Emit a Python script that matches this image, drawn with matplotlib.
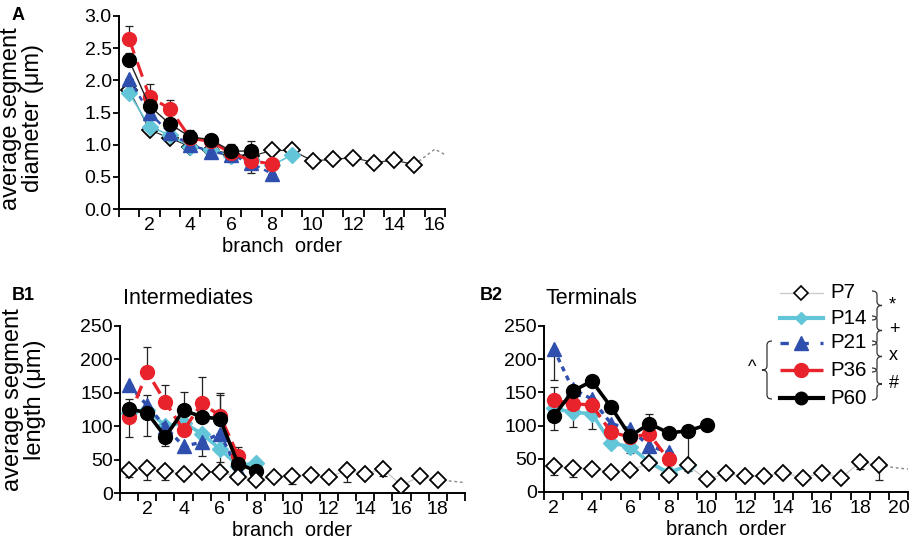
import numpy as np
import matplotlib
matplotlib.use('Agg')
import matplotlib.pyplot as plt
from matplotlib.path import Path
from matplotlib.patches import PathPatch

plt.rcParams['font.family'] = ['Liberation Sans', 'DejaVu Sans']

# ---------------- data ----------------
groups = ['P7', 'P14', 'P21', 'P36', 'P60']

# Panel A: average segment diameter (um)
A_p7_order = list(range(1, 16))
A_p7 = [1.85, 1.23, 1.10, 0.97, 0.92, 0.86, 0.82, 0.91, 0.91, 0.75, 0.77, 0.80, 0.72, 0.76, 0.69]
A_p7_tail_order = [15, 16, 17]
A_p7_tail = [0.69, 0.93, 0.76]
A_p14_order = list(range(1, 10))
A_p14 = [1.80, 1.28, 1.15, 0.97, 0.92, 0.83, 0.78, 0.68, 0.84]
A_p21_order = list(range(1, 9))
A_p21 = [2.02, 1.49, 1.18, 1.00, 0.89, 0.84, 0.71, 0.55]
A_p21_lo = [0, 0, 0, 0, 0, 0, 0.15, 0]
A_p36_order = list(range(1, 9))
A_p36 = [2.64, 1.74, 1.56, 1.10, 1.05, 0.87, 0.75, 0.70]
A_p36_hi = [0.20, 0.21, 0.13, 0, 0, 0, 0, 0]
A_p60_order = list(range(1, 8))
A_p60 = [2.31, 1.60, 1.32, 1.12, 1.08, 0.90, 0.90]
A_p60_hi = [0.12, 0.10, 0.09, 0.11, 0.05, 0.11, 0.15]

# Panel B1: intermediates, average segment length (um)
B1_p7_order = list(range(1, 19))
B1_p7 = [34, 37, 33, 28, 32, 32, 24, 20, 24, 26, 27, 24, 34, 29, 36, 11, 25, 20]
B1_p7_lo = [10, 18, 13, 0, 0, 0, 0, 0, 0, 13, 0, 0, 17, 0, 10, 0, 0, 0]
B1_p7_tail_order = [18, 19, 20]
B1_p7_tail = [20, 17, 14]
B1_p14_order = list(range(1, 9))
B1_p14 = [120, 125, 100, 105, 89, 66, 41, 45]
B1_p14_lo = [0, 0, 0, 0, 0, 20, 0, 0]
B1_p21_order = list(range(1, 8))
B1_p21 = [161, 131, 99, 70, 76, 89, 35]
B1_p21_lo = [0, 0, 0, 0, 20, 0, 0]
B1_p21_hi = [0, 15, 0, 0, 0, 0, 0]
B1_p36_order = list(range(1, 8))
B1_p36 = [114, 181, 136, 94, 134, 116, 56]
B1_p36_hi = [0, 38, 26, 0, 40, 33, 13]
B1_p60_order = list(range(1, 9))
B1_p60 = [126, 120, 84, 124, 114, 111, 44, 33]
B1_p60_lo = [42, 34, 14, 0, 0, 0, 0, 0]
B1_p60_hi = [15, 0, 0, 27, 0, 35, 0, 0]

# Panel B2: terminals
B2_p7_order = list(range(2, 20))
B2_p7 = [39, 36, 35, 30, 33, 43, 25, 40, 19, 28, 24, 24, 29, 21, 29, 21, 45, 40]
B2_p7_lo = [14, 13, 0, 0, 0, 0, 0, 0, 0, 0, 0, 0, 0, 0, 0, 0, 10, 22]
B2_p7_tail_order = [19, 20, 21]
B2_p7_tail = [40, 36, 33]
B2_p14_order = list(range(2, 10))
B2_p14 = [126, 120, 118, 74, 68, 45, 29, 40]
B2_p14_lo = [0, 22, 0, 6, 10, 8, 0, 8]
B2_p21_order = list(range(2, 9))
B2_p21 = [216, 155, 140, 103, 95, 69, 60]
B2_p21_lo = [48, 0, 0, 0, 0, 0, 0]
B2_p36_order = list(range(2, 9))
B2_p36 = [138, 133, 131, 90, 83, 87, 49]
B2_p36_hi = [20, 0, 0, 0, 0, 0, 0]
B2_p36_lo = [0, 0, 36, 0, 0, 0, 0]
B2_p60_order = list(range(2, 11))
B2_p60 = [114, 152, 167, 128, 84, 103, 89, 92, 101]
B2_p60_lo = [21, 0, 0, 0, 0, 0, 0, 55, 0]
B2_p60_hi = [0, 0, 0, 0, 0, 15, 0, 0, 0]

# ---------------- styles ----------------
C_CYAN = '#62c6d8'
C_BLUE = '#2f4fae'
C_RED = '#e8232b'
C_BLACK = '#000000'
EB = dict(ecolor='#222222', elinewidth=0.9, capsize=3, capthick=0.9, fmt='none')

W, H = 912, 550
fig = plt.figure(figsize=(W / 100, H / 100), dpi=100)


def px_axes(l, t, r, b):
    return fig.add_axes([l / W, 1 - b / H, (r - l) / W, (b - t) / H])


def setup(ax, xmin, xmax, ymax, ystep, yfmt, labels):
    ax.set_xlim(xmin - 0.5, xmax + 0.5)
    ax.set_ylim(0, ymax)
    for s in ['top', 'right']:
        ax.spines[s].set_visible(False)
    for s in ['left', 'bottom']:
        ax.spines[s].set_linewidth(1.4)
    ax.set_xticks(np.arange(xmin - 0.5, xmax + 0.51, 1.0), minor=True)
    ax.set_xticks(labels)
    ax.set_xticklabels([str(v) for v in labels])
    ax.tick_params(axis='x', which='major', length=0, labelsize=14, pad=6)
    ax.tick_params(axis='x', which='minor', length=6, width=1.3, direction='out')
    yt = np.arange(0, ymax + ystep / 2, ystep)
    ax.set_yticks(yt)
    ax.set_yticklabels([yfmt.format(v) for v in yt])
    ax.tick_params(axis='y', length=4.5, width=1.3, direction='out', labelsize=14, pad=0.8)
    ax.set_xlabel('branch  order', fontsize=14.5, labelpad=2)


def err(ax, x, y, lo, hi, z=2):
    lo = np.zeros(len(y)) if lo is None else np.asarray(lo, float)
    hi = np.zeros(len(y)) if hi is None else np.asarray(hi, float)
    ax.errorbar(x, y, yerr=[lo, hi], zorder=z, **EB)


# ---------------- Panel A ----------------
axA = px_axes(119, 16, 445, 209)
setup(axA, 1, 16, 3.0, 0.5, '{:.1f}', list(range(2, 17, 2)))
axA.set_ylabel('average segment\ndiameter (\u03bcm)', fontsize=17, linespacing=1.0)
axA.yaxis.set_label_coords(-0.23, 0.47)
axA.plot(A_p7_tail_order, A_p7_tail, ls=(0, (2, 2)), color='#888888', lw=1, zorder=1, clip_on=True)
err(axA, A_p21_order, A_p21, A_p21_lo, None, 2)
err(axA, A_p36_order, A_p36, None, A_p36_hi, 2)
err(axA, A_p60_order, A_p60, None, A_p60_hi, 2)
axA.plot(A_p14_order, A_p14, color=C_CYAN, lw=1.2, marker='D', ms=8, mfc=C_CYAN, mec=C_CYAN, zorder=3)
axA.plot(A_p21_order, A_p21, color=C_BLUE, lw=1.8, ls=(0, (2, 2)), marker='^', ms=10, mfc=C_BLUE, mec=C_BLUE, zorder=4)
axA.plot(A_p36_order, A_p36, color=C_RED, lw=2.2, ls=(0, (5, 3)), marker='o', ms=10, mfc=C_RED, mec=C_RED, zorder=5)
axA.plot(A_p60_order, A_p60, color='#222222', lw=1.0, marker='o', ms=10, mfc=C_BLACK, mec=C_BLACK, zorder=6)
axA.plot(A_p7_order, A_p7, color='#333333', lw=0.9, marker='D', ms=8, mfc='white', mec='black', mew=1.3, zorder=2.5)

# ---------------- Panel B1 ----------------
axB1 = px_axes(120, 326, 465, 493)
setup(axB1, 1, 19, 250, 50, '{:.0f}', list(range(2, 19, 2)))
axB1.set_ylabel('average segment\nlength (\u03bcm)', fontsize=17, linespacing=1.0)
axB1.yaxis.set_label_coords(-0.215, 0.56)
axB1.plot(B1_p7_tail_order, B1_p7_tail, ls=(0, (2, 2)), color='#888888', lw=1, zorder=1)
axB1.plot(B1_p7_order, B1_p7, color='#cccccc', lw=1, zorder=1.5)
err(axB1, B1_p7_order, B1_p7, B1_p7_lo, None, 2)
err(axB1, B1_p14_order, B1_p14, B1_p14_lo, None, 2)
err(axB1, B1_p21_order, B1_p21, B1_p21_lo, B1_p21_hi, 2)
err(axB1, B1_p36_order, B1_p36, None, B1_p36_hi, 2)
err(axB1, B1_p60_order, B1_p60, B1_p60_lo, B1_p60_hi, 2)
axB1.plot(B1_p14_order, B1_p14, color=C_CYAN, lw=2.6, marker='D', ms=8, mfc=C_CYAN, mec=C_CYAN, zorder=3)
axB1.plot(B1_p21_order, B1_p21, color=C_BLUE, lw=2.4, ls=(0, (1.5, 1.5)), marker='^', ms=10, mfc=C_BLUE, mec=C_BLUE, zorder=4)
axB1.plot(B1_p36_order, B1_p36, color=C_RED, lw=2.4, ls=(0, (4, 2)), marker='o', ms=10, mfc=C_RED, mec=C_RED, zorder=5)
axB1.plot(B1_p60_order, B1_p60, color=C_BLACK, lw=2.6, marker='o', ms=10, mfc=C_BLACK, mec=C_BLACK, zorder=6)
axB1.plot(B1_p7_order, B1_p7, ls='none', marker='D', ms=8, mfc='white', mec='black', mew=1.3, zorder=7)

# ---------------- Panel B2 ----------------
axB2 = px_axes(544, 326, 908, 492)
setup(axB2, 2, 20, 250, 50, '{:.0f}', list(range(2, 21, 2)))
axB2.plot(B2_p7_tail_order, B2_p7_tail, ls=(0, (2, 2)), color='#888888', lw=1, zorder=1)
axB2.plot(B2_p7_order, B2_p7, color='#cccccc', lw=1, zorder=1.5)
err(axB2, B2_p7_order, B2_p7, B2_p7_lo, None, 2)
err(axB2, B2_p14_order, B2_p14, B2_p14_lo, None, 2)
err(axB2, B2_p21_order, B2_p21, B2_p21_lo, None, 2)
err(axB2, B2_p36_order, B2_p36, B2_p36_lo, B2_p36_hi, 2)
err(axB2, B2_p60_order, B2_p60, B2_p60_lo, B2_p60_hi, 2)
axB2.plot(B2_p14_order, B2_p14, color=C_CYAN, lw=2.6, marker='D', ms=8, mfc=C_CYAN, mec=C_CYAN, zorder=3)
axB2.plot(B2_p21_order, B2_p21, color=C_BLUE, lw=2.4, ls=(0, (1.5, 1.5)), marker='^', ms=10, mfc=C_BLUE, mec=C_BLUE, zorder=4)
axB2.plot(B2_p36_order, B2_p36, color=C_RED, lw=2.4, ls=(0, (4, 2)), marker='o', ms=10, mfc=C_RED, mec=C_RED, zorder=5)
axB2.plot(B2_p60_order, B2_p60, color=C_BLACK, lw=2.6, marker='o', ms=10, mfc=C_BLACK, mec=C_BLACK, zorder=6)
axB2.plot(B2_p7_order, B2_p7, ls='none', marker='D', ms=8, mfc='white', mec='black', mew=1.3, zorder=7)

# ---------------- texts ----------------
def ftext(x, y, s, **kw):
    fig.text(x / W, 1 - y / H, s, **kw)

ftext(12, 16, 'A', fontsize=13, fontweight='bold', va='center', ha='left')
ftext(12, 296, 'B1', fontsize=13, fontweight='bold', va='center', ha='left')
ftext(480, 296, 'B2', fontsize=13, fontweight='bold', va='center', ha='left')
ftext(123, 298, 'Intermediates', fontsize=15.5, va='center', ha='left')
ftext(546, 298, 'Terminals', fontsize=15.5, va='center', ha='left')

# ---------------- legend with braces (overlay, pixel coords) ----------------
ov = fig.add_axes([0, 0, 1, 1], zorder=10)
ov.set_xlim(0, W)
ov.set_ylim(H, 0)
ov.axis('off')

rows = [293, 318, 343, 370, 398]
leg_styles = [
    dict(color='#cccccc', lw=1, marker='D', ms=7, mfc='white', mec='black', mew=1.2),
    dict(color=C_CYAN, lw=3, marker='D', ms=6, mfc=C_CYAN, mec=C_CYAN),
    dict(color=C_BLUE, lw=2.4, ls=(0, (2.5, 3.5)), marker='^', ms=10, mfc=C_BLUE, mec=C_BLUE),
    dict(color=C_RED, lw=2.4, ls=(0, (6, 2.5)), marker='o', ms=10, mfc=C_RED, mec=C_RED),
    dict(color=C_BLACK, lw=3, marker='o', ms=9, mfc=C_BLACK, mec=C_BLACK),
]
mkeys = ('marker', 'ms', 'mfc', 'mec', 'mew')
for y, name, st in zip(rows, groups, leg_styles):
    ov.plot([780, 823], [y, y], **{k: v for k, v in st.items() if k not in mkeys})
    ov.plot([801.5], [y], ls='none', **{k: v for k, v in st.items() if k in mkeys})
    ov.text(830, y, name, fontsize=14.8, va='center', ha='left')


def brace(x, y0, y1, w, direction=1, lw=0.9):
    # vertical curly brace from y0 (top) to y1 (bottom) starting at x, tip pointing by direction*w
    ym = (y0 + y1) / 2
    h = w / 2 * direction
    d = min(4.0, (y1 - y0) / 4)
    verts = [(x, y0), (x + h, y0), (x + h, y0 + d),
             (x + h, ym - d),
             (x + h, ym), (x + 2 * h, ym),
             (x + h, ym), (x + h, ym + d),
             (x + h, y1 - d),
             (x + h, y1), (x, y1)]
    codes = [Path.MOVETO, Path.CURVE3, Path.CURVE3,
             Path.LINETO,
             Path.CURVE3, Path.CURVE3,
             Path.CURVE3, Path.CURVE3,
             Path.LINETO,
             Path.CURVE3, Path.CURVE3]
    ov.add_patch(PathPatch(Path(verts, codes), fill=False, lw=lw, ec='#333333'))

syms = ['*', '+', 'x', '#']
for i in range(4):
    brace(872, rows[i] - 2, rows[i + 1] + 2, 10, 1)
    ov.text(889, (rows[i] + rows[i + 1]) / 2 - 1, syms[i], fontsize=13, va='center', ha='left')
brace(772, rows[2] - 2, rows[4] + 1, 10, -1)
ov.text(752, (rows[2] + rows[4]) / 2 - 3, '^', fontsize=13, va='center', ha='center')

fig.savefig('out.png', dpi=100)
